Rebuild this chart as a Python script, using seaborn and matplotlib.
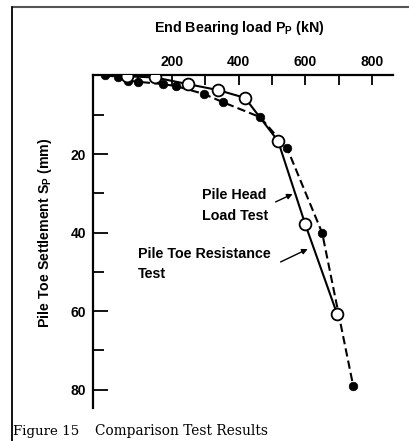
import matplotlib
matplotlib.use("Agg")
import matplotlib.pyplot as plt
from matplotlib.lines import Line2D
from matplotlib.ticker import FixedLocator, FuncFormatter
import seaborn as sns
import pandas as pd

# ---- data ----
toe_load = [0, 39, 69, 99, 174, 212, 296, 353, 464, 545, 650, 743]
toe_settle = [0, 0.3, 1.3, 1.6, 2.2, 2.7, 4.7, 6.8, 10.6, 18.5, 40.1, 79.1]

head_load = [66, 150, 248, 338, 419, 518, 599, 695]
head_settle = [0.2, 0.5, 2.2, 3.7, 5.7, 16.7, 37.8, 60.8]

x_major = [100, 200, 300, 400, 500, 600, 700, 800]
x_labeled = [200, 400, 600, 800]
y_major = [20, 40, 60, 80]
y_minor = [10, 30, 50, 70]

title_text = "End Bearing load P$_\\mathbf{P}$ (kN)"
ylabel_text = "Pile Toe Settlement S$_\\mathbf{P}$ (mm)"
head_label = "Pile Head\nLoad Test"
toe_label = "Pile Toe Resistance\nTest"
caption_num = "Figure 15"
caption_txt = "Comparison Test Results"

toe_df = pd.DataFrame({"load": toe_load, "settle": toe_settle})
head_df = pd.DataFrame({"load": [0] + head_load, "settle": [0] + head_settle})
head_pts = pd.DataFrame({"load": head_load, "settle": head_settle})

sns.set_style("white")
plt.rcParams["font.family"] = ["Liberation Sans", "DejaVu Sans"]
plt.rcParams["mathtext.fontset"] = "custom"
plt.rcParams["mathtext.rm"] = "Liberation Sans"
plt.rcParams["mathtext.bf"] = "Liberation Sans:bold"
plt.rcParams["text.color"] = "black"
plt.rcParams["xtick.labelcolor"] = "black"
plt.rcParams["ytick.labelcolor"] = "black"

fig = plt.figure(figsize=(4.10, 4.41), dpi=100)
ax = fig.add_axes([0.2268, 0.0748, 0.7317, 0.754])

# dashed line with filled circles (pile toe)
sns.lineplot(data=toe_df, x="load", y="settle", sort=False, estimator=None,
             ax=ax, color="black", linewidth=1.5, dashes=False,
             linestyle=(0, (4, 2)), zorder=2)
sns.scatterplot(data=toe_df, x="load", y="settle", ax=ax, color="black",
                s=38, edgecolor="black", linewidth=0.5, zorder=4)

# solid line with open circles (pile head)
sns.lineplot(data=head_df, x="load", y="settle", sort=False, estimator=None,
             ax=ax, color="black", linewidth=1.5, zorder=3)
sns.scatterplot(data=head_pts, x="load", y="settle", ax=ax, color="white",
                s=72, edgecolor="black", linewidth=1.3, zorder=5)

ax.set_xlim(-36, 862)
ax.set_ylim(84.7, 0)

ax.xaxis.tick_top()
ax.xaxis.set_label_position("top")
ax.xaxis.set_major_locator(FixedLocator(x_major))
ax.xaxis.set_major_formatter(FuncFormatter(
    lambda v, p: f"{int(round(v))}" if int(round(v)) in x_labeled else ""))
ax.yaxis.set_major_locator(FixedLocator(y_major))
ax.yaxis.set_minor_locator(FixedLocator(y_minor))

ax.tick_params(axis="x", which="major", direction="in", length=7, width=1.3,
               pad=5, labelsize=10, top=True, bottom=False, color="black")
ax.tick_params(axis="y", which="major", direction="in", length=11, width=1.3,
               pad=5, labelsize=10, left=True, color="black")
ax.tick_params(axis="y", which="minor", direction="in", length=8, width=1.3,
               left=True, color="black")
for lab in ax.get_xticklabels() + ax.get_yticklabels():
    lab.set_fontweight("bold")

for side in ["bottom", "right"]:
    ax.spines[side].set_visible(False)
for side in ["top", "left"]:
    ax.spines[side].set_linewidth(1.6)
    ax.spines[side].set_color("black")

ax.set_xlabel("")
ax.set_ylabel("")

fig.text(0.583, 0.9365, title_text, ha="center", va="center",
         fontsize=10.3, fontweight="bold")
fig.text(0.11, 0.472, ylabel_text, ha="center", va="center", rotation=90,
         fontsize=10.2, fontweight="bold")

ax.text(290, 33.1, head_label, ha="left", va="center", fontsize=10.3,
        fontweight="bold", linespacing=1.6)
ax.text(99, 48.0, toe_label, ha="left", va="center", fontsize=10.3,
        fontweight="bold", linespacing=1.5)
ax.annotate("", xy=(569, 29.9), xytext=(503, 32.5),
            arrowprops=dict(arrowstyle="-|>", color="black", lw=1.0,
                            mutation_scale=8))
ax.annotate("", xy=(614, 43.9), xytext=(518, 47.8),
            arrowprops=dict(arrowstyle="-|>", color="black", lw=1.0,
                            mutation_scale=8))

# caption
fig.text(13 / 410, 1 - 431 / 441, caption_num, ha="left", va="center",
         fontsize=9.6, family="DejaVu Serif")
fig.text(95 / 410, 1 - 431 / 441, caption_txt, ha="left", va="center",
         fontsize=9.9, family="DejaVu Serif")

# page frame lines
fig.add_artist(Line2D([12 / 410, 1.0], [1 - 7 / 441, 1 - 7 / 441],
                      transform=fig.transFigure, color="#555555", lw=1.5))
fig.add_artist(Line2D([12 / 410, 12 / 410], [1 - 7 / 441, 0.0],
                      transform=fig.transFigure, color="black", lw=1.3))

fig.savefig("out.png", dpi=100)
